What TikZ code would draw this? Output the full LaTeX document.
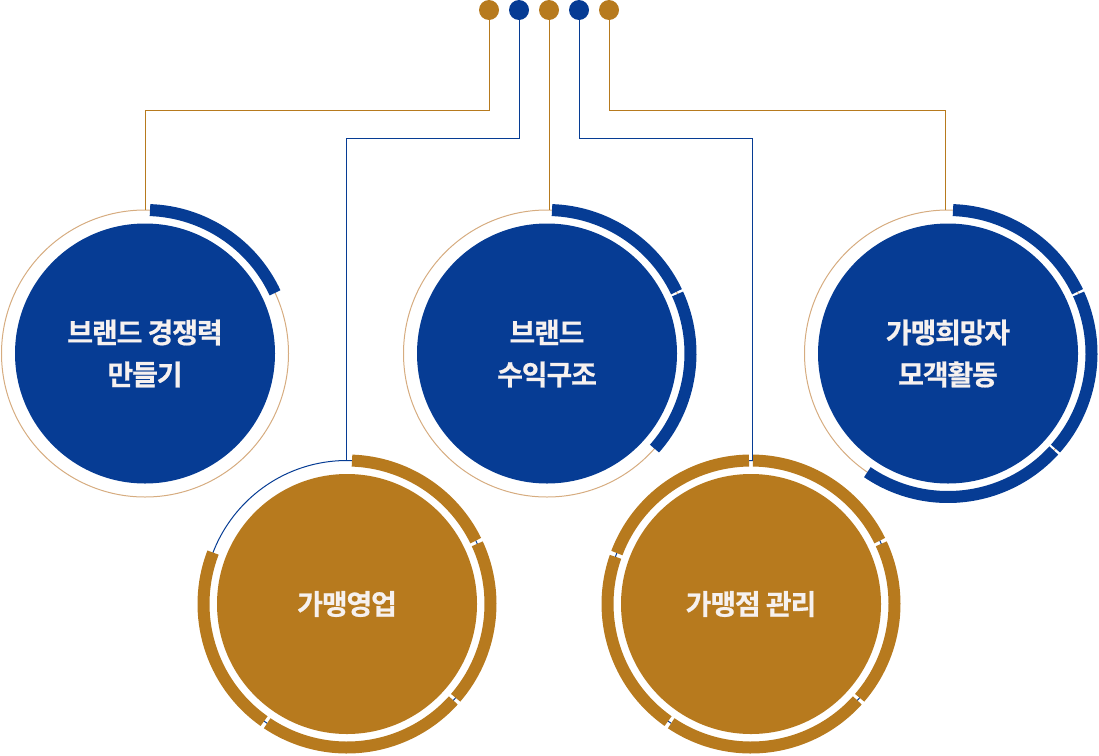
\documentclass[tikz,border=0pt]{standalone}
\usepackage{fontspec}
\newfontfamily\kr{Noto Sans CJK KR}[BoldFont=* Bold, BoldFeatures={FakeBold=0.6}, LetterSpace=-4]
\usetikzlibrary{calc}
\definecolor{cblue}{HTML}{063C94}
\definecolor{cgold}{HTML}{B77A1E}
\definecolor{ctan}{HTML}{D6AC80}
\definecolor{ctext}{HTML}{F6F1EF}
\newcommand{\ringseg}[4]{\draw[thickarc,#4] ($(#1)+(-#2:143.5)$) arc[start angle=-#2, end angle=-#3, radius=143.5];}
\begin{document}
\begin{tikzpicture}[x=1pt,y=-1pt,
  dot/.style={circle,inner sep=0pt,minimum size=20pt},
  core/.style={circle,inner sep=0pt,minimum size=260pt,text=ctext,align=center,font=\kr\bfseries\fontsize{28}{42}\selectfont},
  thinring/.style={line width=1pt},
  thickarc/.style={line width=12pt},
  conn/.style={line width=1pt}]
\useasboundingbox (0,0) rectangle (1099,755);
% centers
\coordinate (o1) at (145,353.5);
\coordinate (o2) at (347,604);
\coordinate (o3) at (547,353.5);
\coordinate (o4) at (751,604);
\coordinate (o5) at (948,353.5);
% thin rings
\draw[thinring,ctan] (o1) circle[radius=143.5];
\draw[thinring,cblue] (o2) circle[radius=143.5];
\draw[thinring,ctan] (o3) circle[radius=143.5];
\draw[thinring,cblue] (o4) circle[radius=143.5];
\draw[thinring,ctan] (o5) circle[radius=143.5];
% thick arcs
\ringseg{o1}{88}{25}{cblue}
\ringseg{o2}{88}{26.2}{cgold}
\ringseg{o2}{24.8}{-40.8}{cgold}
\ringseg{o2}{-42.2}{-123.8}{cgold}
\ringseg{o2}{234.7}{159}{cgold}
\ringseg{o3}{88}{25.5}{cblue}
\ringseg{o3}{24.5}{-41.5}{cblue}
\ringseg{o4}{89.2}{26.2}{cgold}
\ringseg{o4}{24.8}{-40.8}{cgold}
\ringseg{o4}{-42.2}{-123.8}{cgold}
\ringseg{o4}{234.7}{160.8}{cgold}
\ringseg{o4}{159.2}{90.8}{cgold}
\ringseg{o5}{88}{25.5}{cblue}
\ringseg{o5}{24.5}{-41.5}{cblue}
\ringseg{o5}{-42.5}{-124.2}{cblue}
% core circles
\node[core,fill=cblue] (c1) at (o1) {브랜드 경쟁력\\만들기};
\node[core,fill=cgold] (c2) at (o2) {가맹영업};
\node[core,fill=cblue] (c3) at (o3) {브랜드\\수익구조};
\node[core,fill=cgold] (c4) at (o4) {가맹점 관리};
\node[core,fill=cblue] (c5) at (o5) {가맹희망자\\모객활동};
% connector ends
\coordinate (t1) at (145,210);
\coordinate (t2) at (346,461);
\coordinate (t3) at (549,210);
\coordinate (t4) at (752,461);
\coordinate (t5) at (945,210);
\coordinate (h1) at (0,110);
\coordinate (h2) at (0,138);
% dots
\node[dot,fill=cgold] (d1) at (489,10) {};
\node[dot,fill=cblue] (d2) at (519,10) {};
\node[dot,fill=cgold] (d3) at (549,10) {};
\node[dot,fill=cblue] (d4) at (579,10) {};
\node[dot,fill=cgold] (d5) at (609,10) {};
% connectors
\draw[conn,cgold] (d1.south) -- (d1 |- h1) -| (t1);
\draw[conn,cblue] (d2.south) -- (d2 |- h2) -| (t2);
\draw[conn,cgold] (d3.south) -- (t3);
\draw[conn,cblue] (d4.south) -- (d4 |- h2) -| (t4);
\draw[conn,cgold] (d5.south) -- (d5 |- h1) -| (t5);
\end{tikzpicture}
\end{document}
